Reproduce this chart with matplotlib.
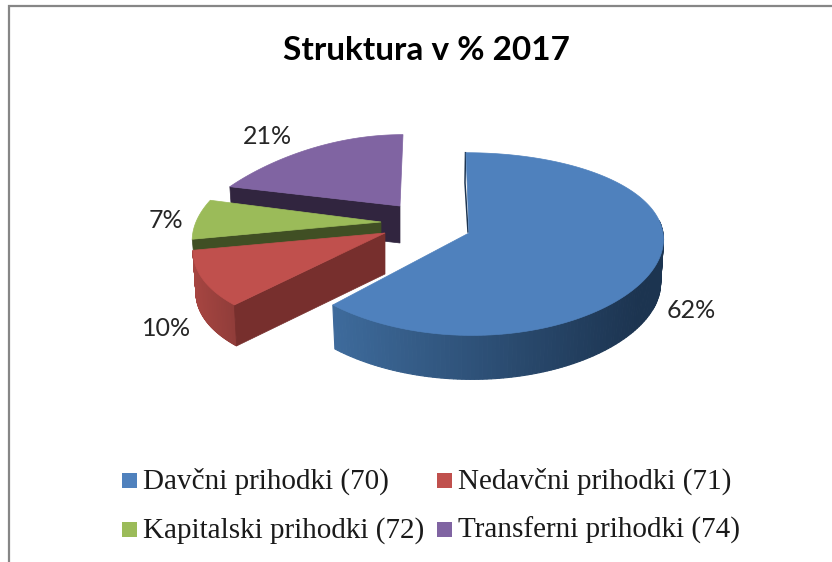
import numpy as np
import matplotlib
matplotlib.use("Agg")
import matplotlib.pyplot as plt
from matplotlib.colors import to_rgb
from matplotlib.patches import Rectangle

# -----------------------------
# Data
# -----------------------------
title = "Struktura v % 2017"
categories = ["Davčni prihodki (70)", "Nedavčni prihodki (71)",
              "Kapitalski prihodki (72)", "Transferni prihodki (74)"]
shares = [62, 10, 7, 21]
share_labels = ["62%", "10%", "7%", "21%"]

# -----------------------------
# Style
# -----------------------------
top_colors = ["#4F81BD", "#C0504D", "#9BBB59", "#8064A2"]
wall_colors = ["#1D3551", "#772F2D", "#404F24", "#31253F"]
rim_left = ["#3E6B9C", "#A64541", "#7C9647", "#66508A"]
rim_right = ["#1C3450", "#8E3C39", "#7C9647", "#66508A"]

# apex pixel, radii, x perspective, tilt, depth per slice
apex_x = [469, 385, 381, 400]
apex_y = [233, 233, 222, 206]
radius_x = [194, 188, 185, 194]
radius_y = [90, 90, 90, 80]
persp_x = [0.055, 0.2, 0.2, 0.4]
tilt = [3, 0, 0, -3]
depth = [44, 41, 30, 37]
persp_y = 0.121
shrink = 0.985

label_x = [691, 167, 166, 267]
label_y = [310, 328, 221, 137]

legend_x = [122, 437, 122, 437]
legend_y = [473, 473, 522, 522]
swatch = 15

# -----------------------------
# Helper functions
# -----------------------------
def project(i, angle):
    """Clockwise angle from 12 o'clock -> pixel on the tilted disc of slice i"""
    X, Y = np.sin(angle), -np.cos(angle)
    x = apex_x[i] + X * radius_x[i] / (1 - persp_x[i] * Y) + tilt[i] * Y
    y = apex_y[i] + Y * radius_y[i] / (1 - persp_y * Y)
    return x, y

def extrude(i, x, y):
    """Same point on the bottom face of the slice"""
    return apex_x[i] + (x - apex_x[i]) * shrink, y + depth[i]

def mix(c1, c2, t):
    return tuple((1 - t) * a + t * b for a, b in zip(to_rgb(c1), to_rgb(c2)))

def draw_rim(ax, i, a0, a1, x_left, x_right, z):
    angles = np.linspace(a0, a1, 120)
    xs, ys = project(i, angles)
    bx, by = extrude(i, xs, ys)
    for k in range(len(angles) - 1):
        t = np.clip((xs[k] - x_left) / (x_right - x_left), 0, 1)
        col = mix(rim_left[i], rim_right[i], t)
        ax.fill([xs[k], xs[k + 1], bx[k + 1], bx[k]],
                [ys[k], ys[k + 1], by[k + 1], by[k]],
                color=col, lw=0.8, zorder=z)

def draw_wall(ax, i, angle, z):
    x, y = project(i, angle)
    bx, by = extrude(i, x, y)
    ax.fill([apex_x[i], x, bx, apex_x[i]],
            [apex_y[i], y, by, apex_y[i] + depth[i]],
            color=wall_colors[i], lw=0.5, zorder=z)

def draw_top(ax, i, a0, a1, z):
    angles = np.linspace(a0, a1, 200)
    xs, ys = project(i, angles)
    ax.fill(np.r_[apex_x[i], xs], np.r_[apex_y[i], ys],
            color=top_colors[i], lw=0.5, zorder=z)

# -----------------------------
# Plot
# -----------------------------
fig = plt.figure(figsize=(8.32, 5.62), dpi=100)
ax = fig.add_axes([0, 0, 1, 1])
ax.set_xlim(0, 832)
ax.set_ylim(562, 0)
ax.axis("off")

# chart frame, cut off by the screenshot on the right and bottom
ax.plot([9, 9, 832], [562, 6, 6], color="#868686", lw=1.6, solid_joinstyle="miter")

ax.text(426, 51, title, family="Lato", weight="bold", fontsize=24,
        ha="center", va="center", color="black")

edges = np.r_[0, np.cumsum(shares)] / sum(shares) * 2 * np.pi

# back to front: purple, green, red, blue
for z, i in enumerate([3, 2, 1, 0]):
    a0, a1 = edges[i], edges[i + 1]
    base = 2 + z * 3
    if i == 0:
        # outer rim is only visible from the right side round to the cut
        draw_rim(ax, i, np.radians(82), a1, 332, 640, base)
        # thin sliver of the inner wall at 12 o'clock
        x, y = project(i, a0)
        ax.plot([x - 0.5, x - 1, apex_x[i] - 1], [y, y + 30, apex_y[i] - 1],
                color=wall_colors[i], lw=1.1, zorder=base)
    elif i == 1:
        draw_rim(ax, i, a0, a1, 193, 238, base)
        draw_wall(ax, i, a0, base + 1)
    else:
        draw_wall(ax, i, a0, base)
    draw_top(ax, i, a0, a1, base + 2)

for lab, x, y in zip(share_labels, label_x, label_y):
    ax.text(x, y, lab, family="Lato", fontsize=18, ha="center", va="center",
            color="#262626", zorder=20)

for name, col, x, y in zip(categories, top_colors, legend_x, legend_y):
    ax.add_patch(Rectangle((x, y), swatch, swatch, facecolor=col, edgecolor="none"))
    ax.text(x + swatch + 6, y + swatch / 2 + 1, name, family="Liberation Serif",
            fontsize=21, ha="left", va="center", color="#1a1a1a")

fig.savefig("out.png", dpi=100)
